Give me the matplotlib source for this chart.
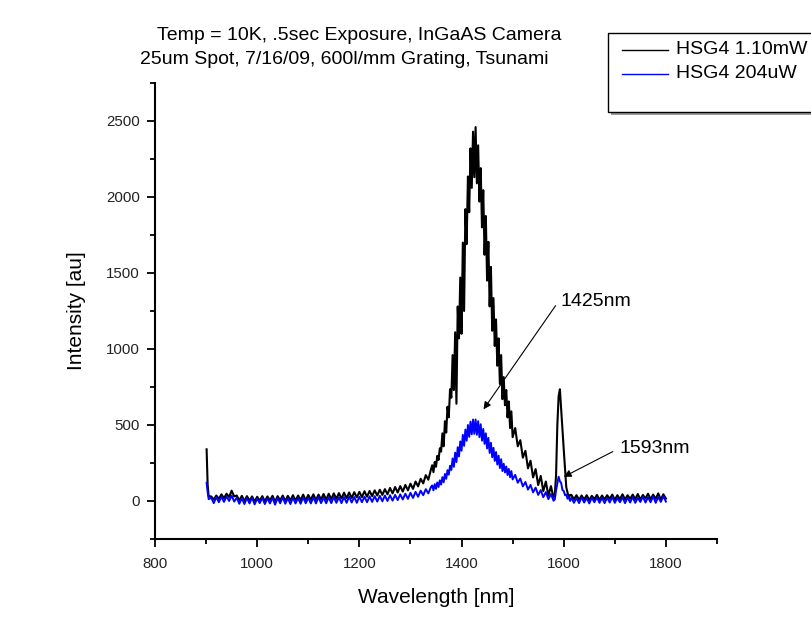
import numpy as np
import matplotlib
matplotlib.use("Agg")
import matplotlib.pyplot as plt
from matplotlib.patches import Rectangle
from matplotlib.lines import Line2D
from matplotlib.ticker import FixedLocator

plt.rcParams['font.family'] = ['Liberation Sans', 'DejaVu Sans']

# ---------------- data ----------------
# wavelength sampling grid [nm]
wavelength_nm = np.concatenate([
    [901, 903, 905],
    np.arange(910, 1341, 5),
    np.arange(1342.5, 1500.1, 2.5),
    np.arange(1505, 1581, 5),
    np.arange(1582.5, 1612.6, 2.5),
    np.arange(1615, 1801, 5),
])

# HSG4 1.10mW intensity [au]
black_au = [
    340, 110, 32,
    30, 10, 36, 14, 44, 18, 48, 26, 68, 30,
    36, 4, 34, 0, 32, 2, 30, -4, 28, 2,
    32, -2, 30, 4, 34, -4, 32, 4, 36, 0,
    34, 4, 38, 2, 36, 6, 42, 4, 40, 8,
    44, 6, 42, 10, 46, 8, 48, 12, 50, 14,
    52, 16, 55, 18, 56, 20, 58, 24, 60, 26,
    64, 28, 66, 32, 70, 36, 74, 40, 78, 44,
    86, 50, 92, 56, 98, 62, 106, 70, 114, 80,
    128, 96, 146, 116, 170, 140, 206,
    235, 190, 257, 225, 297, 270, 347, 325,
    445, 360, 525, 450, 620, 550, 735, 680,
    960, 730, 1110, 640, 1280, 1070, 1470, 1100,
    1700, 1250, 1920, 1690, 2135, 1900, 2320, 2060,
    2430, 2130, 2460, 2090, 2340, 1970, 2190, 1800,
    2045, 1620, 1875, 1450, 1705, 1280, 1540, 1120,
    1335, 1020, 1195, 890, 1070, 770, 960, 670,
    815, 630, 730, 550, 655, 480, 590, 420,
    480, 360, 400, 285, 330, 215, 265, 155, 210, 105, 165, 65, 128, 35, 98, 20,
    40, 170, 500, 690, 735, 600, 470, 340, 210, 90, 55, 20, 40,
    40, 12, 38, 8, 36, 10, 38, 6, 34, 12,
    40, 8, 36, 10, 38, 14, 42, 8, 38, 12,
    44, 10, 38, 14, 42, 12, 46, 10, 40, 16,
    48, 12, 42, 14, 50, 10, 44, 16,
]

# HSG4 204uW intensity [au]
blue_au = [
    120, 60, 12,
    22, -14, 26, -8, 28, -6, 30, 0, 36, -4,
    22, -18, 18, -20, 20, -16, 22, -22, 16, -14,
    20, -20, 18, -16, 22, -24, 20, -15, 24, -18,
    18, -20, 22, -16, 20, -18, 24, -15, 22, -16,
    24, -16, 26, -14, 22, -15, 24, -14, 26, -12,
    24, -14, 26, -12, 28, -10, 26, -12, 28, -8,
    28, -8, 30, -6, 32, -4, 34, -2, 36, 0,
    38, 2, 40, 6, 44, 10, 48, 14, 54, 20,
    60, 28, 68, 38, 78, 50, 92,
    102, 70, 111, 80, 122, 92, 136, 108,
    157, 123, 178, 146, 203, 173, 232, 204,
    280, 225, 318, 256, 354, 293, 392, 331,
    435, 363, 470, 396, 500, 422, 522, 439,
    536, 442, 536, 436, 525, 420, 505, 397,
    474, 376, 445, 346, 415, 316, 383, 288,
    350, 264, 322, 240, 298, 217, 275, 197,
    245, 188, 227, 171, 211, 156, 197, 142,
    172, 120, 148, 96, 125, 75, 106, 57, 88, 40, 72, 25, 58, 12, 46, 2,
    10, 70, 115, 160, 130, 118, 72, 66, 38, 42, 15, 26, 0,
    22, -12, 20, -14, 24, -10, 20, -16, 22, -8,
    24, -12, 20, -14, 22, -10, 26, -12, 20, -8,
    24, -14, 22, -10, 26, -12, 20, -6, 28, -10,
    24, -8, 30, -12, 26, -6, 32, -4,
]

series_labels = ["HSG4 1.10mW", "HSG4 204uW"]
series_colors = ["#000000", "#0000ff"]

x_major = [800, 1000, 1200, 1400, 1600, 1800]
x_minor = [900, 1100, 1300, 1500, 1700, 1900]
y_major = [0, 500, 1000, 1500, 2000, 2500]
y_minor = [-250, 250, 750, 1250, 1750, 2250, 2750]

# annotations: (text, arrow tip, arrow tail, text anchor)
peak_notes = [
    ("1425nm", (1443, 603), (1584, 1285), (1594, 1311)),
    ("1593nm", (1600, 159), (1696, 325), (1710, 344)),
]

# ---------------- figure ----------------
W, H = 811, 640
fig = plt.figure(figsize=(W / 100, H / 100), dpi=100)
fig.patch.set_facecolor("white")

def fx(px):
    return px / W

def fy(py):
    return 1 - py / H

ax = fig.add_axes([fx(155), fy(539), fx(717) - fx(155), fy(83) - fy(539)])
ax.set_facecolor("none")

ax.plot(wavelength_nm, black_au, color=series_colors[0], lw=1.5, zorder=2)
ax.plot(wavelength_nm, blue_au, color=series_colors[1], lw=1.4, zorder=3)

ax.set_xlim(800, 1900)
ax.set_ylim(-250, 2750)
ax.xaxis.set_major_locator(FixedLocator(x_major))
ax.xaxis.set_minor_locator(FixedLocator(x_minor))
ax.yaxis.set_major_locator(FixedLocator(y_major))
ax.yaxis.set_minor_locator(FixedLocator(y_minor))
ax.set_xticklabels([str(v) for v in x_major])
ax.set_yticklabels([str(v) for v in y_major])

for s in ["top", "right"]:
    ax.spines[s].set_visible(False)
for s in ["left", "bottom"]:
    ax.spines[s].set_linewidth(1.5)
    ax.spines[s].set_color("black")

ax.tick_params(which="major", direction="out", length=6, width=1.3,
               labelsize=10.8, labelcolor="#222222")
ax.tick_params(which="minor", direction="out", length=3.5, width=1.3)
ax.tick_params(axis="x", which="major", pad=7)
ax.tick_params(axis="y", which="major", pad=5)

ax.set_xlabel("Wavelength [nm]", fontsize=15, labelpad=12)
ax.set_ylabel("Intensity [au]", fontsize=15, labelpad=14)

for text, tip, tail, tpos in peak_notes:
    ax.annotate("", xy=tip, xytext=tail,
                arrowprops=dict(arrowstyle="-|>", color="black", lw=0.8,
                                mutation_scale=11, shrinkA=0, shrinkB=0))
    ax.text(tpos[0], tpos[1], text, fontsize=14, ha="left", va="center")

# titles
fig.text(fx(359), fy(35), "Temp = 10K, .5sec Exposure, InGaAS Camera",
         fontsize=14, ha="center", va="center")
fig.text(fx(344), fy(59), "25um Spot, 7/16/09, 600l/mm Grating, Tsunami",
         fontsize=14, ha="center", va="center")

# legend box (extends past the right edge like the original)
shadow = Rectangle((fx(611), fy(115)), fx(840) - fx(611), fy(36) - fy(115),
                   transform=fig.transFigure, facecolor="#9a9a9a",
                   edgecolor="none", zorder=4)
box = Rectangle((fx(608), fy(112)), fx(840) - fx(608), fy(33) - fy(112),
                transform=fig.transFigure, facecolor="white",
                edgecolor="black", lw=1.0, zorder=5)
fig.add_artist(shadow)
fig.add_artist(box)
for i, (lab, col) in enumerate(zip(series_labels, series_colors)):
    yy = 50 + 24 * i
    fig.add_artist(Line2D([fx(622), fx(668)], [fy(yy), fy(yy)],
                          transform=fig.transFigure, color=col, lw=1.0,
                          zorder=6))
    fig.text(fx(676), fy(yy), lab, fontsize=14, ha="left", va="center",
             zorder=6)

fig.savefig("out.png", dpi=100, facecolor="white")
